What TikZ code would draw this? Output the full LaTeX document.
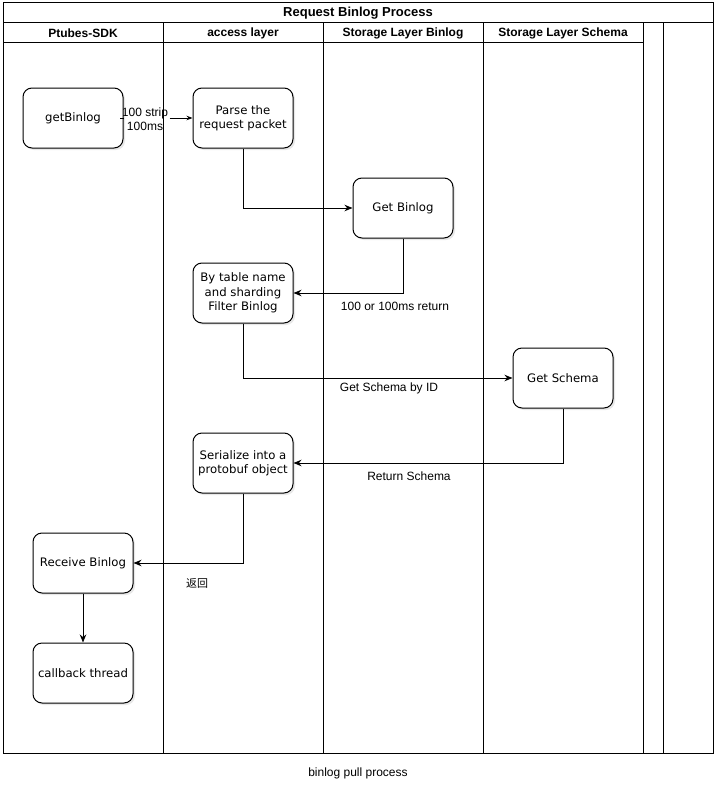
\documentclass[tikz,border=0pt]{standalone}
\usepackage{fontspec}
\setmainfont{Liberation Sans}
\newfontfamily\boxfont{DejaVu Sans}
\newfontfamily\cjkfont{Noto Sans CJK SC}
\usetikzlibrary{arrows.meta,shadows}
\begin{document}
\begin{tikzpicture}[x=1pt,y=-1pt,line width=1pt,
  proc/.style={draw,rounded corners=9pt,minimum width=100pt,minimum height=60pt,
    align=center,inner sep=0pt,fill=white,
    font=\boxfont\fontsize{11.7}{14.3}\selectfont,
    drop shadow={opacity=0.18,shadow xshift=2pt,shadow yshift=-2pt}},
  lbl/.style={font=\fontsize{12}{14}\selectfont,inner sep=1pt,align=center},
  hdr/.style={font=\bfseries\fontsize{12}{14}\selectfont},
  flow/.style={-{Stealth[length=8pt,width=6.5pt]}},
  flowsmall/.style={-{Stealth[length=6pt,width=4.5pt]}},
  frame/.style={line width=1pt}
]
\useasboundingbox (0,0) rectangle (722,792);

% edge label with white background (drawn before lane lines)
\node[lbl,fill=white] (l1) at (145,119.5) {100 strip\\100ms};

% pool frame
\draw[frame] (3,3) rectangle (713,753);
\draw[frame] (3,23) -- (713,23);
\draw[frame] (3,43) -- (643,43);
\foreach \x in {163,323,483,643,663}
  \draw[frame] (\x,23) -- (\x,753);

% titles
\node[font=\bfseries\fontsize{13}{15}\selectfont] (title) at (358,13) {Request Binlog Process};
\node[hdr] (h1) at (83,33) {Ptubes-SDK};
\node[hdr] (h2) at (243,33) {access layer};
\node[hdr] (h3) at (403,33) {Storage Layer Binlog};
\node[hdr] (h4) at (563,33) {Storage Layer Schema};

% process nodes
\node[proc] (get)   at (73,118)  {getBinlog};
\node[proc] (parse) at (243,118) {Parse the\\request packet};
\node[proc] (gbin)  at (403,208) {Get Binlog};
\node[proc] (filt)  at (243,293) {By table name\\and sharding\\Filter Binlog};
\node[proc] (gsch)  at (563,378) {Get Schema};
\node[proc] (ser)   at (243,463) {Serialize into a\\protobuf object};
\node[proc] (recv)  at (83,563)  {Receive Binlog};
\node[proc] (cb)    at (83,673)  {callback thread};

% connectors
\draw[flowsmall] (l1.east |- get.east) -- (parse.west);
\draw (get.east) -- (l1.west |- get.east);
\draw[flow] (parse.south) |- (gbin.west);
\draw[flow] (gbin.south) |- (filt.east);
\draw[flow] (filt.south) |- (gsch.west);
\draw[flow] (gsch.south) |- (ser.east);
\draw[flow] (ser.south) |- (recv.east);
\draw[flow] (recv.south) -- (cb.north);

% connector labels
\node[lbl] (l2) at (395,306) {100 or 100ms return};
\node[lbl] (l3) at (389,388) {Get Schema by ID};
\node[lbl] (l4) at (409,476) {Return Schema};
\node[lbl,font=\cjkfont\fontsize{11}{13}\selectfont] (l5) at (197,583) {返回};

% caption
\node[lbl] (cap) at (358,773) {binlog pull process};
\end{tikzpicture}
\end{document}
